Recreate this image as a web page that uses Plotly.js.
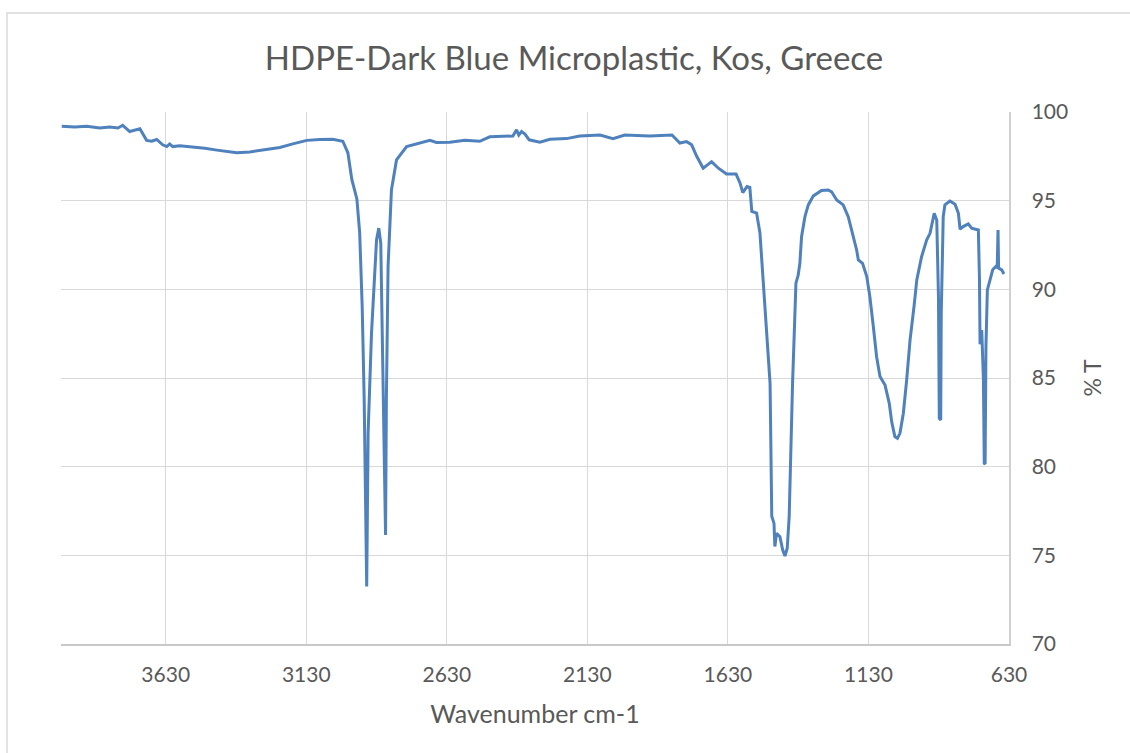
<!DOCTYPE html>
<html>
<head>
<meta charset="utf-8">
<script src="https://cdn.plot.ly/plotly-3.0.1.min.js"></script>
<style>
  html, body { margin: 0; padding: 0; background: #ffffff; }
  #chart { width: 1130px; height: 753px; }
</style>
</head>
<body>
<div id="chart"></div>
<script>
// FTIR spectrum of an HDPE microplastic fragment (wavenumber in cm-1, transmittance in %)
const wavenumber = [
  4000, 3954, 3911, 3865, 3829, 3800, 3783, 3758, 3722, 3698,
  3680, 3662, 3641, 3626, 3616, 3605, 3580, 3545, 3491, 3448,
  3377, 3331, 3271, 3224, 3178, 3128, 3082, 3036, 3000, 2982,
  2968, 2950, 2940, 2931, 2924, 2919, 2915, 2910, 2898, 2880,
  2872, 2865, 2859, 2853, 2848, 2845, 2839, 2827, 2809, 2773,
  2726, 2690, 2667, 2619, 2566, 2513, 2477, 2395, 2382, 2374,
  2364, 2352, 2337, 2299, 2263, 2204, 2157, 2085, 2039, 1997,
  1908, 1829, 1801, 1777, 1759, 1741, 1718, 1688, 1664, 1635,
  1601, 1587, 1577, 1562, 1552, 1545, 1528, 1516, 1504, 1492,
  1480, 1474, 1466, 1463, 1457, 1445, 1435, 1427, 1419, 1412,
  1407, 1400, 1394, 1388, 1380, 1374, 1368, 1356, 1344, 1326,
  1297, 1273, 1261, 1243, 1220, 1202, 1184, 1172, 1166, 1151,
  1136, 1125, 1113, 1101, 1089, 1071, 1056, 1047, 1036, 1027,
  1018, 1006, 994, 982, 968, 958, 941, 923, 911, 901,
  896, 887, 881, 878, 873, 871, 868, 864, 858, 840,
  822, 810, 804, 793, 775, 763, 739, 735, 733, 727,
  721, 718, 715, 712, 707, 698, 688, 676, 672, 669,
  667, 656, 648
];

const transmittance = [
  99.2, 99.15, 99.2, 99.1, 99.15, 99.1, 99.25, 98.9, 99.05, 98.4,
  98.35, 98.45, 98.15, 98.05, 98.2, 98.05, 98.1, 98.05, 97.95, 97.85,
  97.7, 97.75, 97.9, 98.0, 98.2, 98.4, 98.45, 98.46, 98.35, 97.7,
  96.2, 95.1, 93.2, 89.0, 83.8, 78.1, 73.25, 81.9, 87.5, 92.8,
  93.45, 92.6, 87.5, 81.9, 76.15, 83.8, 91.3, 95.6, 97.3, 98.05,
  98.24, 98.4, 98.28, 98.3, 98.4, 98.35, 98.6, 98.65, 99.0, 98.7,
  98.9, 98.75, 98.43, 98.3, 98.46, 98.5, 98.65, 98.7, 98.5, 98.7,
  98.65, 98.7, 98.25, 98.33, 98.15, 97.5, 96.83, 97.2, 96.83, 96.5,
  96.5, 96.0, 95.45, 95.8, 95.75, 94.4, 94.3, 93.17, 90.35, 87.33,
  84.7, 77.2, 76.8, 75.5, 76.24, 76.05, 75.3, 74.96, 75.4, 77.2,
  80.56, 84.7, 87.5, 90.35, 90.8, 91.47, 92.97, 94.1, 94.76, 95.27,
  95.57, 95.6, 95.5, 95.04, 94.76, 94.1, 92.97, 92.22, 91.66, 91.47,
  90.72, 89.59, 87.95, 86.2, 85.08, 84.6, 83.57, 82.5, 81.7, 81.6,
  81.88, 83.0, 84.89, 87.15, 89.02, 90.53, 91.84, 92.78, 93.16, 93.82,
  94.29, 93.9, 89.6, 82.73, 82.63, 88.65, 92.4, 94.1, 94.76, 94.98,
  94.8, 94.29, 93.39, 93.54, 93.69, 93.45, 93.35, 90.5, 86.9, 87.7,
  84.9, 80.19, 80.15, 86.77, 89.97, 90.53, 91.1, 91.3, 91.2, 93.35,
  91.2, 91.1, 90.87
];

// Axis ticks
const xTicks = [3630, 3130, 2630, 2130, 1630, 1130, 630];
const yTicks = [70, 75, 80, 85, 90, 95, 100];

const textColor = '#595959';
const gridColor = '#d9d9d9';
const fontFamily = 'Lato, "Open Sans", sans-serif';

const trace = {
  x: wavenumber,
  y: transmittance,
  type: 'scatter',
  mode: 'lines',
  line: { color: '#4f81bd', width: 3, shape: 'linear' },
  hoverinfo: 'x+y'
};

const layout = {
  width: 1130,
  height: 753,
  margin: { l: 61, r: 121, t: 112, b: 109 },
  paper_bgcolor: '#ffffff',
  plot_bgcolor: '#ffffff',
  showlegend: false,
  font: { family: fontFamily, color: textColor },
  title: {
    text: 'HDPE-Dark Blue Microplastic, Kos, Greece',
    font: { family: fontFamily, size: 33, color: textColor },
    xref: 'container', x: 0.508, xanchor: 'center',
    yref: 'container', y: 0.922, yanchor: 'middle'
  },
  xaxis: {
    range: [4002.6, 630],
    tickmode: 'array',
    tickvals: xTicks,
    ticktext: xTicks.map(String),
    ticks: 'outside',
    ticklen: 11,
    tickcolor: 'rgba(0,0,0,0)',
    tickfont: { family: fontFamily, size: 21, color: textColor },
    showgrid: true,
    gridcolor: gridColor,
    gridwidth: 1,
    zeroline: false,
    showline: true,
    linecolor: '#c8c8c8',
    linewidth: 1.5,
    mirror: false,
    title: {
      text: 'Wavenumber cm-1',
      font: { family: fontFamily, size: 25, color: textColor },
      standoff: 21
    }
  },
  yaxis: {
    side: 'right',
    range: [70, 100],
    tickmode: 'array',
    tickvals: yTicks,
    ticktext: yTicks.map(String),
    ticks: 'outside',
    ticklen: 17,
    tickcolor: 'rgba(0,0,0,0)',
    tickfont: { family: fontFamily, size: 21, color: textColor },
    showgrid: true,
    gridcolor: gridColor,
    gridwidth: 1,
    zeroline: false,
    showline: true,
    linecolor: '#d0d0d0',
    linewidth: 1.5,
    title: {
      text: '% T',
      font: { family: fontFamily, size: 23, color: textColor },
      standoff: 17
    }
  },
  shapes: [
    {
      // chart area outline
      type: 'rect', xref: 'paper', yref: 'paper',
      x0: -0.057, x1: 1.2, y0: -0.3, y1: 1.186,
      line: { color: '#d9d9d9', width: 1.5 },
      fillcolor: 'rgba(0,0,0,0)',
      layer: 'below'
    }
  ]
};

Plotly.newPlot('chart', [trace], layout, { displayModeBar: false, staticPlot: true });
</script>
</body>
</html>
